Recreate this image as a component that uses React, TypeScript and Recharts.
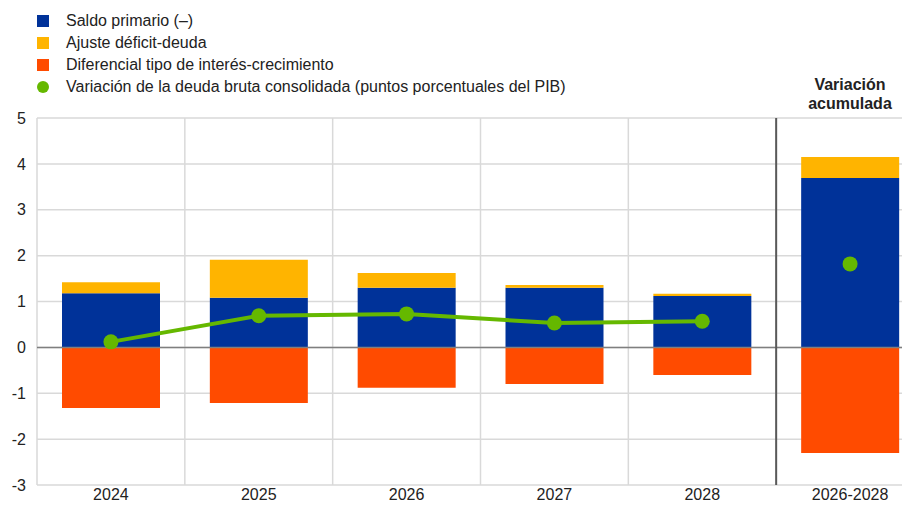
import {
  ComposedChart,
  Bar,
  Line,
  XAxis,
  YAxis,
  CartesianGrid,
  ReferenceLine,
} from 'recharts';

const categories = ['2024', '2025', '2026', '2027', '2028', '2026-2028'];
const saldoPrimario = [1.18, 1.08, 1.3, 1.3, 1.12, 3.69];
const ajusteDeficitDeuda = [0.24, 0.83, 0.32, 0.06, 0.05, 0.46];
const diferencialTipo = [-1.32, -1.21, -0.88, -0.8, -0.6, -2.3];
const variacionDeuda = [0.12, 0.69, 0.73, 0.53, 0.57, null];
const variacionAcumulada = [null, null, null, null, null, 1.82];
const yTicks = [-3, -2, -1, 0, 1, 2, 3, 4, 5];
const boundaryTicks = [0, 1, 2, 3, 4, 5, 6];

const data = categories.map((cat, i) => ({
  cat,
  idx: i + 0.5,
  saldo: saldoPrimario[i],
  ajuste: ajusteDeficitDeuda[i],
  diferencial: diferencialTipo[i],
  deuda: variacionDeuda[i],
  acum: variacionAcumulada[i],
}));

const legendItems = [
  { label: 'Saldo primario (–)', color: '#003299', shape: 'square' },
  { label: 'Ajuste déficit-deuda', color: '#FFB400', shape: 'square' },
  { label: 'Diferencial tipo de interés-crecimiento', color: '#FF4B00', shape: 'square' },
  { label: 'Variación de la deuda bruta consolidada (puntos porcentuales del PIB)', color: '#65B800', shape: 'circle' },
];

const font = 'Arial, "Liberation Sans", sans-serif';
const textColor = '#222';

export default function App() {
  return (
    <div style={{ margin: -8, position: 'relative', width: 910, height: 508, fontFamily: font, overflow: 'hidden' }}>
      <div style={{ position: 'absolute', left: 37, top: 10, zIndex: 2 }}>
        {legendItems.map((item) => (
          <div key={item.label} style={{ display: 'flex', alignItems: 'center', height: 22, fontSize: 16, color: textColor, whiteSpace: 'nowrap' }}>
            <span
              style={{
                display: 'inline-block',
                width: 12,
                height: 12,
                background: item.color,
                borderRadius: item.shape === 'circle' ? '50%' : 0,
                marginRight: 17,
              }}
            />
            {item.label}
          </div>
        ))}
      </div>
      <div
        style={{
          position: 'absolute',
          left: 780,
          width: 140,
          top: 75,
          textAlign: 'center',
          fontWeight: 'bold',
          fontSize: 16,
          lineHeight: '19px',
          color: textColor,
          zIndex: 2,
        }}
      >
        Variación
        <br />
        acumulada
      </div>
      <ComposedChart
        width={930}
        height={530}
        data={data}
        stackOffset='sign'
        margin={{ top: 118, right: 6, left: 0, bottom: 15 }}
      >
        <XAxis
          xAxisId='cat'
          dataKey='cat'
          height={30}
          axisLine={false}
          tickLine={false}
          tickSize={0}
          tickMargin={4}
          tick={{ fontSize: 16, fill: textColor, fontFamily: font }}
          interval={0}
        />
        <XAxis xAxisId='num' dataKey='idx' type='number' domain={[0, 6]} ticks={boundaryTicks} hide />
        <CartesianGrid xAxisId='num' stroke='#d9d9d9' strokeWidth={1.5} />
        <YAxis
          width={37}
          domain={[-3, 5]}
          ticks={yTicks}
          axisLine={false}
          tickLine={false}
          tick={{ fontSize: 16, fill: textColor, fontFamily: font }}
          tickMargin={5}
        />
        <ReferenceLine y={0} xAxisId='num' stroke='#7f7f7f' strokeWidth={1.5} />
        <Bar xAxisId='cat' dataKey='saldo' stackId='a' fill='#003299' barSize={98} isAnimationActive={false} />
        <Bar xAxisId='cat' dataKey='ajuste' stackId='a' fill='#FFB400' barSize={98} isAnimationActive={false} />
        <Bar xAxisId='cat' dataKey='diferencial' stackId='a' fill='#FF4B00' barSize={98} isAnimationActive={false} />
        <ReferenceLine x={5} xAxisId='num' stroke='#595959' strokeWidth={2} />
        <Line
          xAxisId='cat'
          dataKey='deuda'
          stroke='#65B800'
          strokeWidth={4}
          dot={{ r: 7.5, fill: '#65B800', stroke: 'none' }}
          activeDot={false}
          isAnimationActive={false}
        />
        <Line
          xAxisId='cat'
          dataKey='acum'
          stroke='none'
          dot={{ r: 7.5, fill: '#65B800', stroke: 'none' }}
          activeDot={false}
          isAnimationActive={false}
        />
      </ComposedChart>
    </div>
  );
}
